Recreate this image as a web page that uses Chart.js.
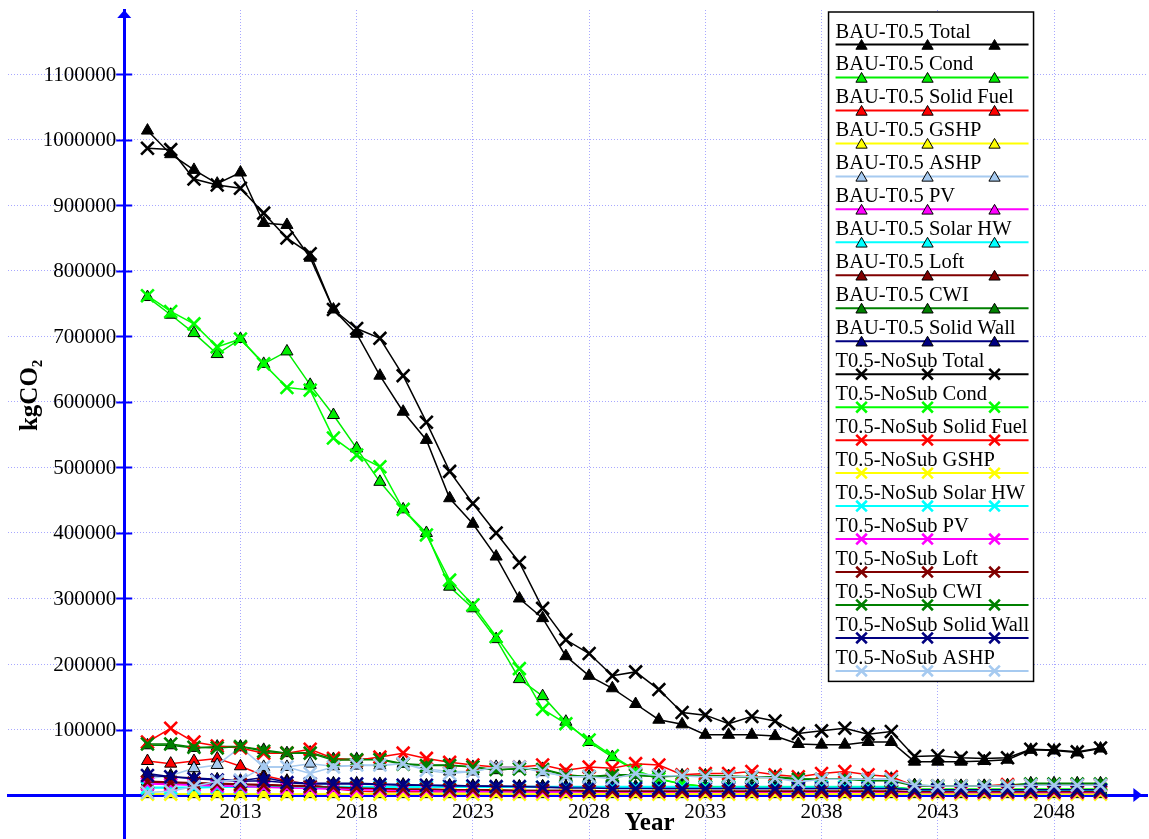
<!DOCTYPE html>
<html>
<head>
<meta charset="utf-8">
<script src="https://cdn.jsdelivr.net/npm/chart.js@4.4.1/dist/chart.umd.min.js"></script>
<style>
  html, body { margin: 0; padding: 0; background: #ffffff; }
  canvas { display: block; }
</style>
</head>
<body>
<canvas id="co2Chart" width="1149" height="839"></canvas>
<script>
// Years on the x axis
const years = [2009, 2010, 2011, 2012, 2013, 2014, 2015, 2016, 2017, 2018,
  2019, 2020, 2021, 2022, 2023, 2024, 2025, 2026, 2027, 2028,
  2029, 2030, 2031, 2032, 2033, 2034, 2035, 2036, 2037, 2038,
  2039, 2040, 2041, 2042, 2043, 2044, 2045, 2046, 2047, 2048,
  2049, 2050];
const xTicks = [2013, 2018, 2023, 2028, 2033, 2038, 2043, 2048];
const yTicks = [100000, 200000, 300000, 400000, 500000, 600000, 700000, 800000, 900000, 1000000, 1100000];

// BAU-T0.5 scenario (kgCO2)
const bauTotal = [1014000, 978000, 954000, 933000, 950000, 873000, 870000, 820000, 741000, 704000,
  640000, 585000, 542000, 453000, 414000, 364000, 300000, 270000, 212000, 182000,
  163000, 139000, 115000, 108000, 92000, 92000, 92000, 90000, 78000, 77000,
  77000, 81000, 81000, 51000, 51000, 51000, 52000, 54000, 69000, 68000,
  65000, 71000];
const bauCond = [760000, 733000, 705000, 673000, 696000, 658000, 677000, 626000, 580000, 529000,
  478000, 436000, 400000, 318000, 285000, 238000, 177000, 151000, 112000, 81000,
  58000, 37000, 24000, 17000, 13000, 12000, 12000, 12000, 12000, 12000,
  12000, 12000, 12000, 9000, 9000, 9000, 9000, 9000, 9000, 9000,
  9000, 9000];
const bauSolidFuel = [52000, 48000, 52000, 56000, 44000, 30000, 22000, 16000, 10000, 6000,
  5000, 5000, 5000, 5000, 5000, 5000, 5000, 5000, 5000, 5000,
  4000, 4000, 4000, 4000, 4000, 4000, 4000, 4000, 4000, 4000,
  4000, 4000, 4000, 3000, 3000, 3000, 3000, 3000, 3000, 3000,
  3000, 3000];
const bauGSHP = [1500, 1500, 1500, 1500, 1500, 1500, 1500, 1500, 1500, 1500,
  1500, 1500, 1500, 1500, 1500, 1500, 1500, 1500, 1500, 1500,
  1500, 1500, 1500, 1500, 1500, 1500, 1500, 1500, 1500, 1500,
  1500, 1500, 1500, 1500, 1500, 1500, 1500, 1500, 1500, 1500,
  1500, 1500];
const bauASHP = [25000, 30000, 41000, 46000, 73000, 43000, 43000, 48000, 44000, 45000,
  45000, 48000, 40000, 36000, 36000, 43000, 43000, 35000, 29000, 28000,
  27000, 32000, 30000, 29000, 28000, 28000, 28000, 27000, 22000, 25000,
  25000, 25000, 25000, 15000, 14000, 14000, 14000, 14000, 15000, 15000,
  15000, 15000];
const bauPV = [18000, 17000, 16000, 15000, 14000, 13000, 12000, 11000, 10000, 9000,
  8000, 8000, 7000, 7000, 6000, 6000, 6000, 5000, 5000, 5000,
  5000, 5000, 5000, 5000, 5000, 5000, 5000, 5000, 5000, 5000,
  5000, 5000, 5000, 4000, 4000, 4000, 4000, 4000, 4000, 4000,
  4000, 4000];
const bauSolarHW = [12000, 12000, 12000, 13000, 13000, 13000, 13000, 13000, 13000, 13000,
  13000, 13000, 13000, 13000, 13000, 13000, 13000, 13000, 13000, 13000,
  13000, 13000, 13000, 13000, 13000, 13000, 13000, 13000, 13000, 13000,
  13000, 13000, 13000, 8000, 8000, 8000, 8000, 8000, 8000, 8000,
  8000, 8000];
const bauLoft = [21000, 20000, 19000, 18000, 17000, 16000, 15000, 14000, 12000, 11000,
  10000, 9000, 9000, 8000, 8000, 8000, 7000, 7000, 7000, 7000,
  6000, 6000, 6000, 6000, 6000, 6000, 6000, 6000, 6000, 6000,
  6000, 6000, 6000, 5000, 5000, 5000, 5000, 5000, 5000, 5000,
  5000, 5000];
const bauCWI = [76000, 76000, 72000, 74000, 74000, 69000, 64000, 65000, 55000, 55000,
  55000, 48000, 46000, 46000, 43000, 38000, 41000, 40000, 31000, 28000,
  31000, 31000, 28000, 30000, 30000, 29000, 28000, 28000, 25000, 24000,
  25000, 23000, 23000, 15000, 14000, 14000, 14000, 15000, 18000, 18000,
  18000, 18000];
const bauSolidWall = [33000, 28000, 26000, 24000, 22000, 27000, 20000, 18000, 18000, 18000,
  17000, 16000, 15000, 15000, 14000, 14000, 13000, 13000, 12000, 12000,
  11000, 11000, 10000, 10000, 10000, 10000, 10000, 10000, 10000, 10000,
  10000, 10000, 10000, 8000, 8000, 8000, 8000, 8000, 8000, 8000,
  8000, 8000];

// T0.5-NoSub scenario (kgCO2)
const nsTotal = [987000, 985000, 940000, 931000, 926000, 888000, 850000, 826000, 741000, 712000,
  697000, 640000, 569000, 494000, 445000, 400000, 355000, 285000, 237000, 216000,
  182000, 188000, 161000, 126000, 122000, 109000, 120000, 113000, 94000, 98000,
  102000, 93000, 97000, 59000, 60000, 57000, 56000, 57000, 70000, 69000,
  66000, 72000];
const nsCond = [762000, 738000, 719000, 684000, 696000, 658000, 622000, 618000, 545000, 519000,
  501000, 436000, 397000, 328000, 290000, 242000, 193000, 131000, 109000, 84000,
  60000, 38000, 25000, 17000, 13000, 12000, 12000, 12000, 12000, 12000,
  12000, 12000, 12000, 9000, 9000, 9000, 9000, 9000, 9000, 9000,
  9000, 9000];
const nsSolidFuel = [81000, 102000, 81000, 75000, 72000, 64000, 64000, 70000, 56000, 53000,
  58000, 64000, 56000, 50000, 46000, 43000, 43000, 46000, 38000, 43000,
  41000, 48000, 46000, 31000, 33000, 33000, 36000, 31000, 28000, 33000,
  36000, 31000, 28000, 14000, 14000, 14000, 14000, 16000, 15000, 15000,
  15000, 15000];
const nsGSHP = [1500, 1500, 1500, 1500, 1500, 1500, 1500, 1500, 1500, 1500,
  1500, 1500, 1500, 1500, 1500, 1500, 1500, 1500, 1500, 1500,
  1500, 1500, 1500, 1500, 1500, 1500, 1500, 1500, 1500, 1500,
  1500, 1500, 1500, 1500, 1500, 1500, 1500, 1500, 1500, 1500,
  1500, 1500];
const nsSolarHW = [11000, 11000, 11000, 12000, 12000, 12000, 12000, 12000, 12000, 12000,
  12000, 12000, 12000, 12000, 12000, 12000, 12000, 12000, 12000, 12000,
  12000, 12000, 12000, 12000, 12000, 12000, 12000, 12000, 12000, 12000,
  12000, 12000, 12000, 7000, 7000, 7000, 7000, 7000, 7000, 7000,
  7000, 7000];
const nsPV = [17000, 16000, 15000, 14000, 13000, 12000, 11000, 10000, 9000, 8000,
  8000, 7000, 7000, 6000, 6000, 6000, 5000, 5000, 5000, 5000,
  5000, 5000, 5000, 5000, 5000, 5000, 5000, 5000, 5000, 5000,
  5000, 5000, 5000, 4000, 4000, 4000, 4000, 4000, 4000, 4000,
  4000, 4000];
const nsLoft = [20000, 19000, 18000, 17000, 16000, 15000, 14000, 13000, 12000, 11000,
  10000, 9000, 9000, 8000, 8000, 7000, 7000, 7000, 7000, 6000,
  6000, 6000, 6000, 6000, 6000, 6000, 6000, 6000, 6000, 6000,
  6000, 6000, 6000, 5000, 5000, 5000, 5000, 5000, 5000, 5000,
  5000, 5000];
const nsCWI = [78000, 78000, 73000, 72000, 74000, 67000, 64000, 64000, 53000, 54000,
  54000, 47000, 45000, 45000, 43000, 39000, 40000, 39000, 30000, 28000,
  30000, 30000, 28000, 29000, 29000, 28000, 27000, 27000, 24000, 24000,
  24000, 22000, 22000, 14000, 14000, 14000, 14000, 14000, 17000, 17000,
  17000, 17000];
const nsSolidWall = [30000, 28000, 25000, 23000, 21000, 22000, 19000, 17000, 17000, 17000,
  16000, 15000, 15000, 14000, 14000, 13000, 13000, 12000, 11000, 11000,
  10000, 10000, 10000, 10000, 10000, 10000, 10000, 10000, 10000, 10000,
  10000, 10000, 10000, 8000, 8000, 8000, 8000, 8000, 8000, 8000,
  8000, 8000];
const nsASHP = [4000, 6000, 13000, 21000, 23000, 43000, 43000, 33000, 43000, 46000,
  46000, 48000, 38000, 33000, 36000, 43000, 43000, 36000, 28000, 28000,
  25000, 33000, 30000, 29000, 28000, 28000, 28000, 26000, 20000, 24000,
  24000, 24000, 24000, 15000, 14000, 14000, 14000, 14000, 15000, 15000,
  15000, 15000];

const SERIF = "'Liberation Serif', 'Times New Roman', serif";
const AXIS_BLUE = '#0000ff';
const GRID = '#a8a8ff';

// series: [label, values, colour, bau?]
const series = [
  ['BAU-T0.5 Total', bauTotal, '#000000', true],
  ['BAU-T0.5 Cond', bauCond, '#00ee00', true],
  ['BAU-T0.5 Solid Fuel', bauSolidFuel, '#ff0000', true],
  ['BAU-T0.5 GSHP', bauGSHP, '#ffff00', true],
  ['BAU-T0.5 ASHP', bauASHP, '#a6caf0', true],
  ['BAU-T0.5 PV', bauPV, '#ff00ff', true],
  ['BAU-T0.5 Solar HW', bauSolarHW, '#00ffff', true],
  ['BAU-T0.5 Loft', bauLoft, '#800000', true],
  ['BAU-T0.5 CWI', bauCWI, '#008000', true],
  ['BAU-T0.5 Solid Wall', bauSolidWall, '#000080', true],
  ['T0.5-NoSub Total', nsTotal, '#000000', false],
  ['T0.5-NoSub Cond', nsCond, '#00ff00', false],
  ['T0.5-NoSub Solid Fuel', nsSolidFuel, '#ff0000', false],
  ['T0.5-NoSub GSHP', nsGSHP, '#ffff00', false],
  ['T0.5-NoSub Solar HW', nsSolarHW, '#00ffff', false],
  ['T0.5-NoSub PV', nsPV, '#ff00ff', false],
  ['T0.5-NoSub Loft', nsLoft, '#800000', false],
  ['T0.5-NoSub CWI', nsCWI, '#008000', false],
  ['T0.5-NoSub Solid Wall', nsSolidWall, '#000080', false],
  ['T0.5-NoSub ASHP', nsASHP, '#a6caf0', false]
];

const datasets = series.map(([label, vals, color, bau], i) => ({
  label: label,
  data: years.map((yr, k) => ({ x: yr, y: vals[k] })),
  borderColor: color,
  backgroundColor: color,
  borderWidth: 1.5,
  tension: 0,
  fill: false,
  order: series.length - i, // later series drawn on top
  pointStyle: bau ? 'triangle' : 'crossRot',
  pointRadius: bau ? 7 : 9,
  pointBackgroundColor: color,
  pointBorderColor: bau ? '#000000' : color,
  pointBorderWidth: bau ? 1 : 2.6
}));

const tickFont = { family: SERIF, size: 21 };

// axis arrows, y tick labels, axis titles and the boxed legend
const decor = {
  id: 'decor',
  beforeDraw(chart) {
    const c = chart.ctx;
    c.save();
    c.fillStyle = '#ffffff';
    c.fillRect(0, 0, chart.width, chart.height);
    c.restore();
  },
  afterDraw(chart) {
    const c = chart.ctx;
    const xs = chart.scales.x, ys = chart.scales.y;
    const ax = xs.getPixelForValue(2008);
    const ay = ys.getPixelForValue(0);
    c.save();
    c.strokeStyle = AXIS_BLUE;
    c.fillStyle = AXIS_BLUE;
    c.lineWidth = 2;
    ys.ticks.forEach(t => {
      const py = Math.round(ys.getPixelForValue(t.value)) + 0.5;
      c.beginPath(); c.moveTo(ax - 8, py); c.lineTo(ax + 8, py); c.stroke();
    });
    // arrow heads
    const top = chart.chartArea.top;
    c.beginPath(); c.moveTo(ax, top); c.lineTo(ax - 7, top + 8); c.lineTo(ax + 7, top + 8); c.closePath(); c.fill();
    const right = xs.getPixelForValue(2051.8);
    c.beginPath(); c.moveTo(right, ay); c.lineTo(right - 9, ay - 7); c.lineTo(right - 9, ay + 7); c.closePath(); c.fill();

    // y tick labels
    c.fillStyle = '#000000';
    c.font = tickFont.size + 'px ' + SERIF;
    c.textAlign = 'right';
    c.textBaseline = 'middle';
    ys.ticks.forEach(t => {
      c.fillText(String(t.value), ax - 8, ys.getPixelForValue(t.value) + 1);
    });

    // axis titles
    c.font = 'bold 25px ' + SERIF;
    c.textAlign = 'center';
    c.fillText('Year', xs.getPixelForValue(2030.6), ay + 28);
    c.translate(31, ys.getPixelForValue(610000));
    c.rotate(-Math.PI / 2);
    c.fillText('kgCO\u2082', 0, 0);
    c.restore();

    // legend
    const lx = xs.getPixelForValue(2038.3), ly = 12, lw = 205, rowH = 32.97;
    const lh = rowH * chart.data.datasets.length + 10;
    c.save();
    c.fillStyle = '#ffffff';
    c.fillRect(lx, ly, lw, lh);
    c.strokeStyle = '#000000';
    c.lineWidth = 1.5;
    c.strokeRect(lx, ly, lw, lh);
    c.font = '20.5px ' + SERIF;
    c.textAlign = 'left';
    c.textBaseline = 'alphabetic';
    chart.data.datasets.forEach((ds, i) => {
      const lineY = ly + 32.5 + i * rowH;
      c.fillStyle = '#000000';
      c.fillText(ds.label, lx + 7, lineY - 7);
      c.strokeStyle = ds.borderColor;
      c.lineWidth = 2;
      c.beginPath(); c.moveTo(lx + 7, lineY); c.lineTo(lx + lw - 5, lineY); c.stroke();
      [33, 99, 166].forEach(dx => {
        c.fillStyle = ds.pointBackgroundColor;
        c.strokeStyle = ds.pointBorderColor;
        c.lineWidth = ds.pointBorderWidth;
        const tri = ds.pointStyle === 'triangle';
        Chart.helpers.drawPoint(c, {
          pointStyle: ds.pointStyle,
          radius: tri ? 6.5 : 7.5,
          rotation: 0,
          borderWidth: ds.pointBorderWidth
        }, lx + dx, lineY + (tri ? 1.5 : 0));
      });
    });
    c.restore();
  }
};

const noPad = s => { s.paddingLeft = 0; s.paddingRight = 0; s.paddingTop = 0; s.paddingBottom = 0; };

new Chart(document.getElementById('co2Chart').getContext('2d'), {
  type: 'line',
  data: { datasets: datasets },
  options: {
    responsive: false,
    animation: false,
    layout: { autoPadding: false, padding: { left: 8, right: 2, top: 10, bottom: 0 } },
    plugins: {
      legend: { display: false },
      tooltip: { enabled: false }
    },
    scales: {
      x: {
        type: 'linear',
        min: 2003,
        max: 2052,
        position: { y: 0 },
        afterBuildTicks: s => { s.ticks = xTicks.map(v => ({ value: v })); },
        afterFit: noPad,
        ticks: { font: tickFont, color: '#000000', padding: 5, maxRotation: 0, autoSkip: false, callback: v => String(v) },
        grid: { color: GRID, lineWidth: 1, drawTicks: false },
        border: { color: AXIS_BLUE, width: 3, dash: [1, 2] }
      },
      y: {
        type: 'linear',
        min: -67000,
        max: 1198000,
        position: { x: 2008 },
        afterBuildTicks: s => { s.ticks = yTicks.map(v => ({ value: v })); },
        afterFit: noPad,
        ticks: { display: false },
        grid: { color: GRID, lineWidth: 1, drawTicks: false },
        border: { color: AXIS_BLUE, width: 3, dash: [1, 2] }
      }
    }
  },
  plugins: [decor]
});
</script>
</body>
</html>
